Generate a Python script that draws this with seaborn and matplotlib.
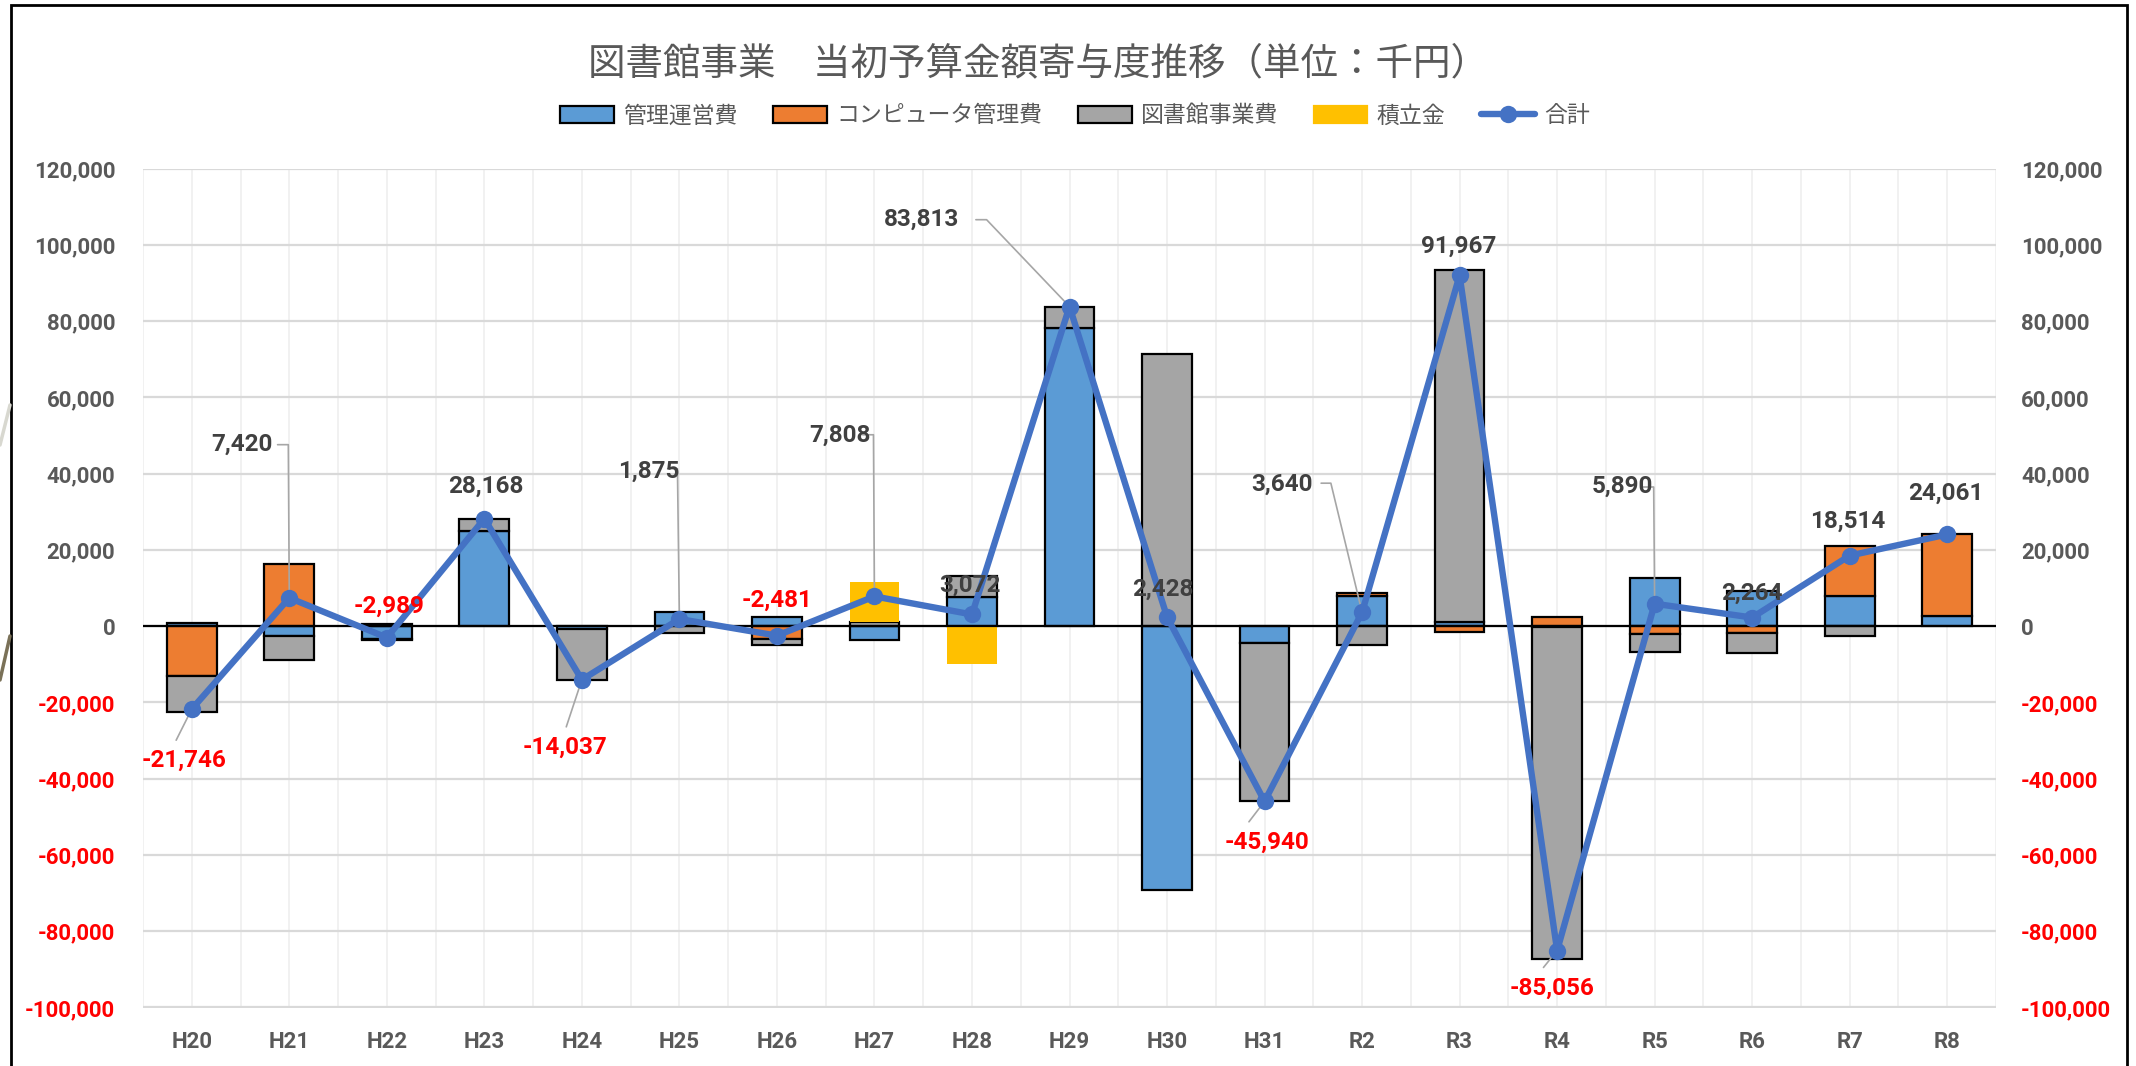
import numpy as np
import matplotlib
matplotlib.use("Agg")
import matplotlib.pyplot as plt
import seaborn as sns
from matplotlib.lines import Line2D
from matplotlib.patches import Rectangle, Patch
from matplotlib.ticker import FuncFormatter

# ---------------- data ----------------
categories = ["H20", "H21", "H22", "H23", "H24", "H25", "H26", "H27", "H28", "H29",
              "H30", "H31", "R2", "R3", "R4", "R5", "R6", "R7", "R8"]
kanri = [800, -2480, -3300, 24900, -700, 3700, 2400, -3700, 7600, 78300,
         -69072, -4400, 7900, 1100, -300, 12700, 9300, 8000, 2800]
computer = [-13050, 16400, -200, 0, 0, 0, -3400, 0, 0, 0,
            0, 0, 700, -1500, 2300, -2000, -1700, 13014, 21261]
toshokan = [-9496, -6500, 511, 3268, -13337, -1825, -1481, 1100, 5472, 5513,
            71500, -41540, -4960, 92367, -87056, -4810, -5336, -2500, 0]
tsumitate = [0, 0, 0, 0, 0, 0, 0, 10408, -10000, 0,
             0, 0, 0, 0, 0, 0, 0, 0, 0]
total = [-21746, 7420, -2989, 28168, -14037, 1875, -2481, 7808, 3072, 83813,
         2428, -45940, 3640, 91967, -85056, 5890, 2264, 18514, 24061]

series_names = ["管理運営費", "コンピュータ管理費", "図書館事業費", "積立金"]
total_name = "合計"
title_text = "図書館事業　当初予算金額寄与度推移（単位：千円）"

# ---------------- style ----------------
sns.set_theme(style="white")
plt.rcParams["font.family"] = ["Roboto", "Noto Sans CJK JP", "DejaVu Sans"]
plt.rcParams["axes.unicode_minus"] = False

colors = ["#5B9BD5", "#ED7D31", "#A5A5A5", "#FFC000"]
edges = ["black", "black", "black", "none"]
line_color = "#4472C4"
txt_gray = "#595959"
lbl_dark = "#404040"
red = "#FF0000"

W, H = 2136, 1066
fig = plt.figure(figsize=(W / 100, H / 100), dpi=100)
ax = fig.add_axes([143 / W, 1 - 1007.5 / H, (1996 - 143) / W, (1007.5 - 168.6) / H])

x = np.arange(len(categories))
bar_w = 0.51

# stacked bars, Excel style (positives up from 0, negatives down from 0)
pos_base = np.zeros(len(x))
neg_base = np.zeros(len(x))
for vals, c, ec in zip([kanri, computer, toshokan, tsumitate], colors, edges):
    v = np.array(vals, dtype=float)
    bottoms = np.where(v >= 0, pos_base, neg_base)
    mask = v != 0
    ax.bar(x[mask], v[mask], bottom=bottoms[mask], width=bar_w, color=c,
           edgecolor=ec, linewidth=1.6, zorder=3)
    pos_base = pos_base + np.where(v > 0, v, 0)
    neg_base = neg_base + np.where(v < 0, v, 0)

ymin, ymax = -100000, 120000
ax.set_ylim(ymin, ymax)
ax.set_xlim(-0.5, len(x) - 0.5)
yt = np.arange(ymin, ymax + 1, 20000)
ax.set_yticks(yt)
fmt = FuncFormatter(lambda v, p: f"{v:,.0f}")
ax.yaxis.set_major_formatter(fmt)
ax.set_xticks(x)
ax.set_xticklabels(categories)
ax.set_xticks(np.arange(-0.5, len(x), 1.0), minor=True)

ax.grid(axis="y", which="major", color="#D9D9D9", linewidth=1.6, zorder=0)
ax.grid(axis="x", which="major", color="#EFEFEF", linewidth=1.2, zorder=0)
ax.grid(axis="x", which="minor", color="#EFEFEF", linewidth=1.2, zorder=0)
ax.set_axisbelow(True)
for s in ax.spines.values():
    s.set_visible(False)
ax.axhline(0, color="black", linewidth=1.6, zorder=4)

ax.tick_params(axis="y", which="both", length=0, pad=20, labelsize=16)
ax.tick_params(axis="x", which="both", length=0, pad=17, labelsize=16,
               labelcolor=txt_gray)
for lab in ax.get_xticklabels():
    lab.set_fontweight("bold")

# secondary axis (same scale)
ax2 = ax.twinx()
ax2.set_ylim(ymin, ymax)
ax2.set_yticks(yt)
ax2.yaxis.set_major_formatter(fmt)
ax2.tick_params(axis="y", length=0, pad=18, labelsize=16)
for s in ax2.spines.values():
    s.set_visible(False)
ax2.grid(False)

for a in (ax, ax2):
    for lab, v in zip(a.get_yticklabels(), yt):
        lab.set_fontweight("bold")
        lab.set_color(red if v < 0 else txt_gray)

# leader lines (label side points; the end is the data point)
leaders = {
    0: [(-0.16, -29900)],
    1: [(0.88, 47600), (0.99, 47600)],
    4: [(3.84, -26400)],
    5: [(4.88, 41300), (4.98, 41300)],
    7: [(6.88, 50200), (6.99, 50200)],
    9: [(8.04, 106600), (8.15, 106600)],
    11: [(10.84, -51300)],
    12: [(11.58, 37500), (11.68, 37500)],
    14: [(13.86, -89500)],
    15: [(14.88, 36500), (14.99, 36500)],
}
for i, pts in leaders.items():
    xs = [p[0] for p in pts] + [x[i]]
    ys = [p[1] for p in pts] + [total[i]]
    ax2.plot(xs, ys, color="#A6A6A6", linewidth=1.2, zorder=2)

sns.lineplot(x=x, y=total, ax=ax2, color=line_color, linewidth=4.6, marker="o",
             markersize=12.5, markeredgewidth=0, zorder=5, legend=False)

# data label positions
label_pos = [(-0.08, -35200), (0.51, 47600), (2.02, 5300), (3.01, 36600),
             (3.83, -31700), (4.69, 40600), (6.0, 6700), (6.65, 50100),
             (7.98, 10600), (7.48, 106700), (9.96, 9600), (11.02, -56600),
             (11.18, 37300), (12.99, 99600), (13.95, -95000), (14.67, 36600),
             (16.0, 8500), (16.98, 27400), (17.99, 34900)]
for i, (lx, ly) in enumerate(label_pos):
    v = total[i]
    ax2.text(lx, ly, f"{v:,}", ha="center", va="center", fontsize=17.5,
             fontweight="bold", color=red if v < 0 else lbl_dark, zorder=6)

# title
fig.text(1038 / W, 1 - 64 / H, title_text, ha="center", va="center",
         fontsize=27, color=txt_gray, family=["Noto Sans CJK JP", "DejaVu Sans"])

# legend
handles = [Patch(facecolor=c, edgecolor=("black" if ec != "none" else c), linewidth=1.6)
           for c, ec in zip(colors, edges)]
handles.append(Line2D([0], [0], color=line_color, linewidth=4.6, marker="o",
                      markersize=12.5, markeredgewidth=0))
leg = fig.legend(handles, series_names + [total_name], loc="center",
                 bbox_to_anchor=(1075 / W, 1 - 116 / H), ncol=5, frameon=False,
                 prop={"family": ["Noto Sans CJK JP", "DejaVu Sans"], "size": 16.5},
                 handlelength=2.35, handleheight=0.75, handletextpad=0.4,
                 columnspacing=1.55)
for t in leg.get_texts():
    t.set_color(txt_gray)

# chart frame and stray shapes at the left edge
fig.add_artist(Rectangle((11 / W, -0.2), (2127 - 11) / W, 1.2 - 5 / H,
                         transform=fig.transFigure, fill=False,
                         edgecolor="black", linewidth=2.0))
fig.add_artist(Line2D([0, 10 / W], [1 - 445 / H, 1 - 405 / H],
                      transform=fig.transFigure, color="#D8D8D0", linewidth=2.5))
fig.add_artist(Line2D([0, 10 / W], [1 - 680 / H, 1 - 636 / H],
                      transform=fig.transFigure, color="#7A7158", linewidth=2.5))

fig.savefig("out.png", dpi=100, facecolor="white")
